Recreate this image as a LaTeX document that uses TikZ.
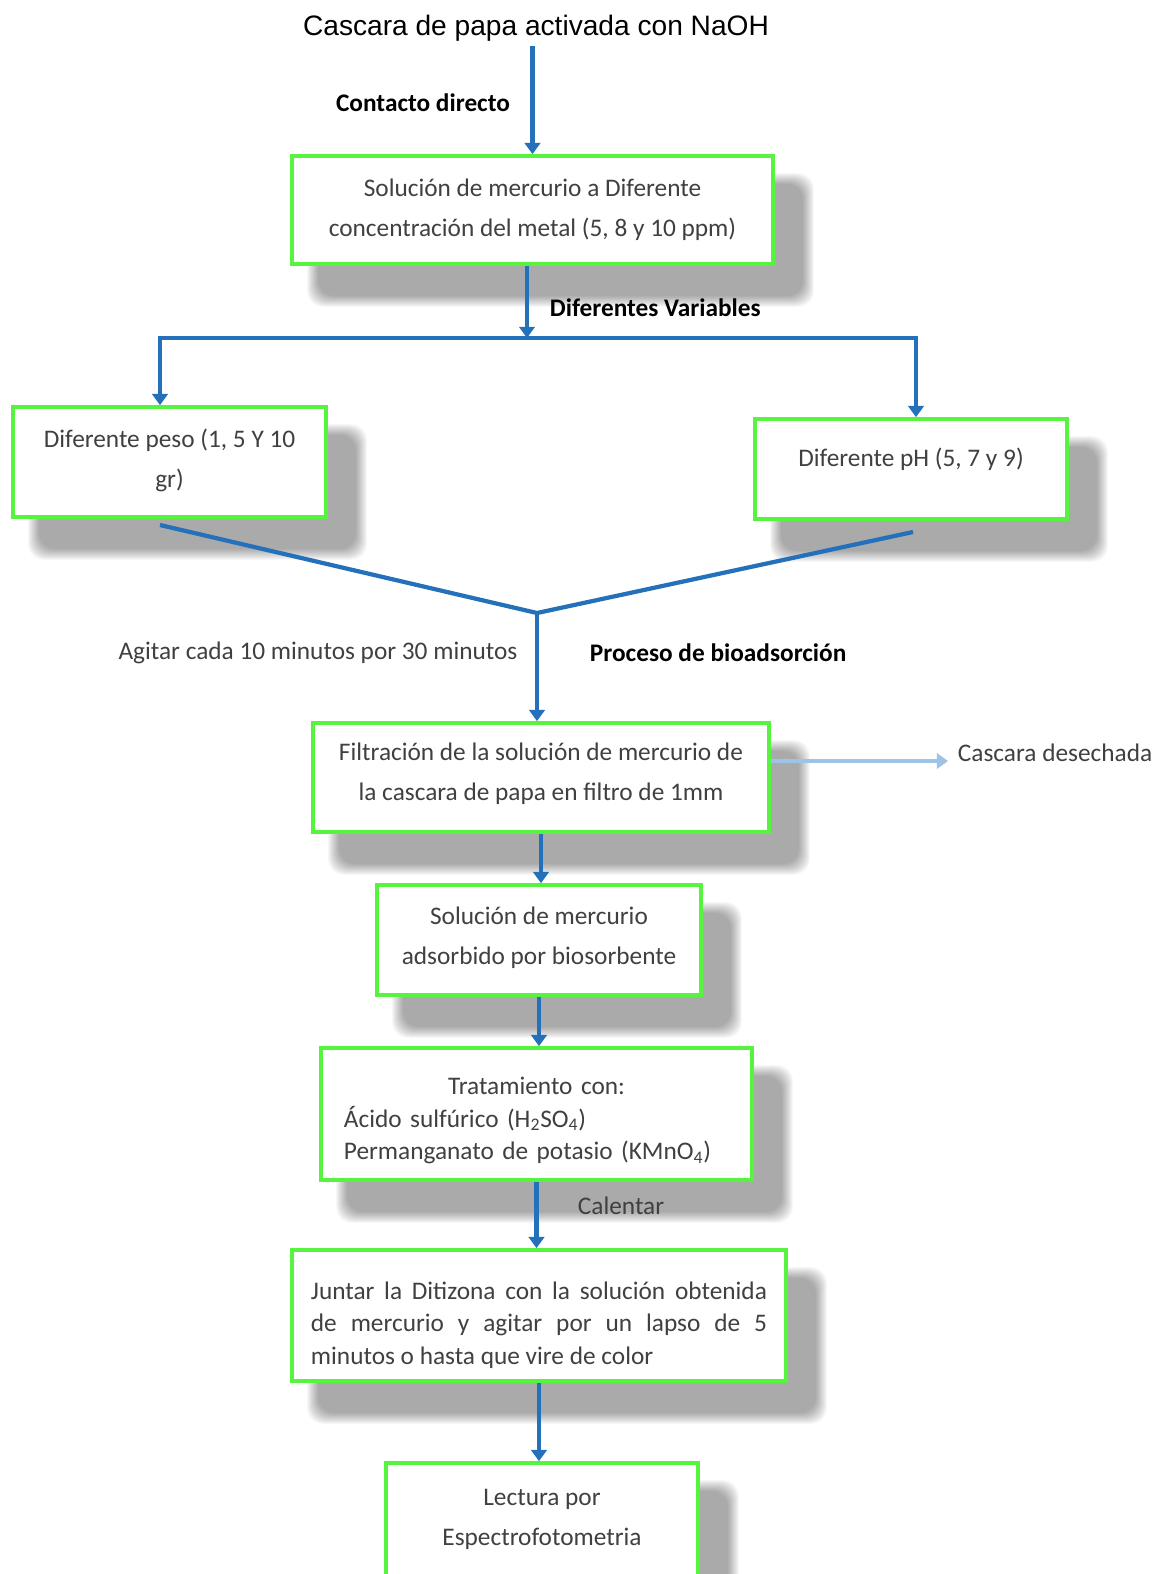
\documentclass[tikz,border=0pt]{standalone}
\usepackage{fontspec}
\setmainfont{Carlito}
\newfontfamily\arialfont{Liberation Sans}
\usetikzlibrary{arrows.meta,backgrounds}
\pgfdeclarelayer{paper}
\pgfsetlayers{paper,background,main}
\definecolor{boxgreen}{RGB}{86,244,62}
\definecolor{flowblue}{RGB}{36,112,186}
\definecolor{wasteblue}{RGB}{157,195,230}
\definecolor{boxtext}{RGB}{64,64,64}
\tikzset{
 procbox/.style={draw=boxgreen, line width=2.6pt, fill=white, align=center, text=boxtext,
   font=\fontsize{18}{28.5}\selectfont, inner sep=0pt},
 shadowring/.style={fill=black, opacity=0.031, rounded corners=0.4cm},
 flow/.style={draw=flowblue, line width=3pt, -{Triangle[width=11pt,length=8pt]}},
 waste/.style={draw=wasteblue, line width=3pt, -{Triangle[width=11pt,length=8pt]}},
 steplabel/.style={font=\fontsize{18}{22}\selectfont\bfseries},
 notelabel/.style={font=\fontsize{18}{22}\selectfont, text=boxtext}
}
\begin{document}
\begin{tikzpicture}[x=0.025cm, y=-0.025cm]
 \useasboundingbox (0,0) rectangle (1168,1574);
 \clip (0,0) rectangle (1168,1574);
 \begin{pgfonlayer}{paper}
  \fill[white] (0,0) rectangle (1168,1574);
 \end{pgfonlayer}
 % start
 \node[font=\arialfont\fontsize{20}{24}\selectfont] (title) at (536,28) {Cascara de papa activada con NaOH};
 % boxes
 \node[procbox, minimum width=12.025cm, minimum height=2.7cm] (sol) at (532.5,210)
   {Solución de mercurio a Diferente\\ concentración del metal (5, 8 y 10 ppm)};
 \node[procbox, minimum width=7.825cm, minimum height=2.75cm, text depth=0.18cm] (peso) at (169.5,462)
   {Diferente peso (1, 5 Y 10\\ gr)};
 \node[procbox, minimum width=7.8cm, minimum height=2.5cm, text depth=0.61cm] (ph) at (911,469)
   {Diferente pH (5, 7 y 9)};
 \node[procbox, minimum width=11.4cm, minimum height=2.725cm, text depth=0.31cm] (filt) at (541,777.5)
   {Filtración de la solución de mercurio de\\ la cascara de papa en filtro de 1mm};
 \node[procbox, minimum width=8.1cm, minimum height=2.75cm, text depth=0.21cm] (ads) at (539,940)
   {Solución de mercurio\\ adsorbido por biosorbente};
 \node[procbox, minimum width=10.775cm, minimum height=3.3cm, text width=9.625cm, align=left,
   text height=0.76cm, font=\fontsize{18}{23}\selectfont] (trat) at (536.5,1114)
   {\hfill Tratamiento con:\hfill\null\\ Ácido sulfúrico (H\textsubscript{2}SO\textsubscript{4})\\
    Permanganato de potasio (KMnO\textsubscript{4})};
 \node[procbox, minimum width=12.35cm, minimum height=3.275cm, text width=11.4cm, align=justify,
   text height=0.91cm, font=\fontsize{18}{23}\selectfont] (junt) at (539,1315.5)
   {Juntar la Ditizona con la solución obtenida\linebreak de mercurio y agitar por un lapso de 5\linebreak
    minutos o hasta que vire de color};
 \node[procbox, minimum width=7.8cm, minimum height=3.425cm, text depth=0.71cm] (lect) at (542,1531.5)
   {Lectura por\\ Espectrofotometria};
 % soft shadows
 \begin{scope}[on background layer]
  \foreach \n in {sol,peso,ph,filt,ads,trat,junt,lect}
   \foreach \k [evaluate=\k as \e using 21-3*\k] in {0,...,11}
    \fill[shadowring] ([shift={({28-\e},{30-\e})}]\n.north west) rectangle ([shift={({28+\e},{30+\e})}]\n.south east);
 \end{scope}
 % branch and merge points
 \coordinate (split) at (527,338);
 \coordinate (splitL) at (160,338);
 \coordinate (splitR) at (916,338);
 \coordinate (mergeL) at (160,525);
 \coordinate (mergeR) at (913,532);
 \coordinate (merge) at (537,613);
 \coordinate (waste) at (948,761);
 % connectors
 \draw[flow] (sol.north |- title.south) -- (sol.north);
 \draw[flow] (split |- sol.south) -- (split);
 \draw[flow, {Triangle[width=11pt,length=8pt]}-{Triangle[width=11pt,length=8pt]}]
   (splitL |- peso.north) -- (splitL) -- (splitR) -- (splitR |- ph.north);
 \draw[flowblue, line width=3pt] (mergeL) -- (merge) -- (mergeR);
 \draw[flow] (merge) -- (merge |- filt.north);
 \draw[waste] (filt.east |- waste) -- (waste);
 \foreach \a/\b in {filt/ads, ads/trat, trat/junt, junt/lect}
   \draw[flow] (\a.south) -- (\a.south |- \b.north);
 % labels
 \node[steplabel] (contacto) at (423,103) {Contacto directo};
 \node[steplabel, anchor=west] (variables) at (545,308) {Diferentes Variables};
 \node[notelabel] (agitar) at (318,653) {Agitar cada 10 minutos por 30 minutos};
 \node[steplabel, anchor=west] (proceso) at (585,653) {Proceso de bioadsorción};
 \node[notelabel, anchor=west] (desecho) at (953,753) {Cascara desechada};
 \node[notelabel, anchor=west] (calentar) at (573,1206) {Calentar};
\end{tikzpicture}
\end{document}
